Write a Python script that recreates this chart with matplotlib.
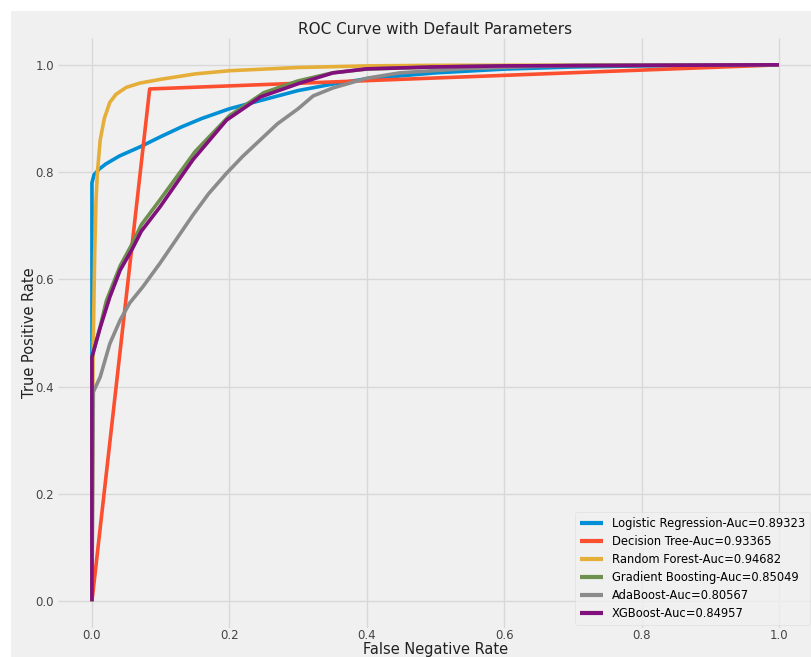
import matplotlib
matplotlib.use("Agg")
import matplotlib.pyplot as plt
from matplotlib.patches import Rectangle

plt.style.use("fivethirtyeight")

# ROC curve points (false positive rate, true positive rate) per model
lr_fpr = [0.0, 0.0, 0.003, 0.01, 0.02, 0.04, 0.07, 0.1, 0.13, 0.16, 0.2, 0.25, 0.3, 0.35, 0.4, 0.5, 0.6, 0.7, 0.8, 1.0]
lr_tpr = [0.0, 0.78, 0.795, 0.805, 0.815, 0.83, 0.847, 0.866, 0.884, 0.9, 0.918, 0.935, 0.952, 0.964, 0.974, 0.985, 0.992, 0.996, 0.998, 1.0]

dt_fpr = [0.0, 0.084, 1.0]
dt_tpr = [0.0, 0.955, 1.0]

rf_fpr = [0.0, 0.0015, 0.004, 0.006, 0.008, 0.012, 0.018, 0.026, 0.035, 0.05, 0.07, 0.1, 0.15, 0.2, 0.3, 0.4, 0.5, 1.0]
rf_tpr = [0.0, 0.45, 0.65, 0.75, 0.8, 0.86, 0.9, 0.93, 0.945, 0.958, 0.966, 0.973, 0.983, 0.989, 0.995, 0.998, 0.999, 1.0]

gb_fpr = [0.0, 0.0, 0.012, 0.021, 0.041, 0.058, 0.072, 0.1, 0.15, 0.2, 0.25, 0.3, 0.35, 0.4, 0.5, 0.6, 0.8, 1.0]
gb_tpr = [0.0, 0.455, 0.512, 0.56, 0.625, 0.665, 0.702, 0.75, 0.838, 0.905, 0.948, 0.97, 0.985, 0.992, 0.996, 0.998, 0.999, 1.0]

ada_fpr = [0.0, 0.002, 0.012, 0.026, 0.041, 0.055, 0.074, 0.099, 0.123, 0.147, 0.17, 0.196, 0.22, 0.245, 0.27, 0.3, 0.322, 0.351, 0.4, 0.448, 0.545, 0.7, 1.0]
ada_tpr = [0.0, 0.39, 0.418, 0.48, 0.524, 0.556, 0.586, 0.63, 0.675, 0.72, 0.76, 0.798, 0.83, 0.86, 0.89, 0.918, 0.942, 0.957, 0.975, 0.985, 0.993, 0.999, 1.0]

xgb_fpr = [0.0, 0.0, 0.012, 0.026, 0.041, 0.058, 0.072, 0.099, 0.147, 0.196, 0.245, 0.303, 0.351, 0.4, 0.497, 0.6, 0.8, 1.0]
xgb_tpr = [0.0, 0.455, 0.51, 0.567, 0.617, 0.655, 0.69, 0.735, 0.823, 0.897, 0.94, 0.966, 0.985, 0.9925, 0.996, 0.998, 0.999, 1.0]

labels = [
    "Logistic Regression-Auc=0.89323",
    "Decision Tree-Auc=0.93365",
    "Random Forest-Auc=0.94682",
    "Gradient Boosting-Auc=0.85049",
    "AdaBoost-Auc=0.80567",
    "XGBoost-Auc=0.84957",
]
colors = ["#008fd5", "#fc4f30", "#e5ae38", "#6d904f", "#8b8b8b", "#810f7c"]
curves = [(lr_fpr, lr_tpr), (dt_fpr, dt_tpr), (rf_fpr, rf_tpr),
          (gb_fpr, gb_tpr), (ada_fpr, ada_tpr), (xgb_fpr, xgb_tpr)]

W, H = 812, 657
fig = plt.figure(figsize=(W / 100, H / 100), dpi=100, facecolor="white")
fig.patches.append(Rectangle((11 / W, 0), 1, (H - 11) / H, transform=fig.transFigure,
                             facecolor="#f0f0f0", edgecolor="none", zorder=-10))

ax = fig.add_axes([57.6 / W, 29 / H, 755.7 / W, 590 / H])
ax.set_facecolor("#f0f0f0")

for (fpr, tpr), lab, col in zip(curves, labels, colors):
    ax.plot(fpr, tpr, color=col, lw=2.6, label=lab)

ax.set_xlim(-0.05, 1.05)
ax.set_ylim(-0.05, 1.05)
ax.set_xticks([0.0, 0.2, 0.4, 0.6, 0.8, 1.0])
ax.set_yticks([0.0, 0.2, 0.4, 0.6, 0.8, 1.0])
ax.tick_params(labelsize=8.5, colors="#444444", length=0)
ax.tick_params(axis="x", pad=0.5)
ax.tick_params(axis="y", pad=2.5)
ax.grid(True, color="#d8d8d8", lw=1.0)
for s in ax.spines.values():
    s.set_visible(False)

ax.set_title("ROC Curve with Default Parameters", fontsize=11, pad=3, color="#222222")
ax.set_xlabel("False Negative Rate", fontsize=10.5, labelpad=0, color="#222222")
ax.set_ylabel("True Positive Rate", fontsize=10.5, labelpad=-1, color="#222222")

leg = ax.legend(loc="lower right", fontsize=8.3, frameon=True, handlelength=2.0,
                handletextpad=0.8, borderaxespad=0.3, labelspacing=0.44)
leg.get_frame().set_facecolor("#f0f0f0")
leg.get_frame().set_edgecolor("#dddddd")
for h in leg.get_lines():
    h.set_linewidth(3)

fig.savefig("out.png", dpi=100, facecolor=fig.get_facecolor())
